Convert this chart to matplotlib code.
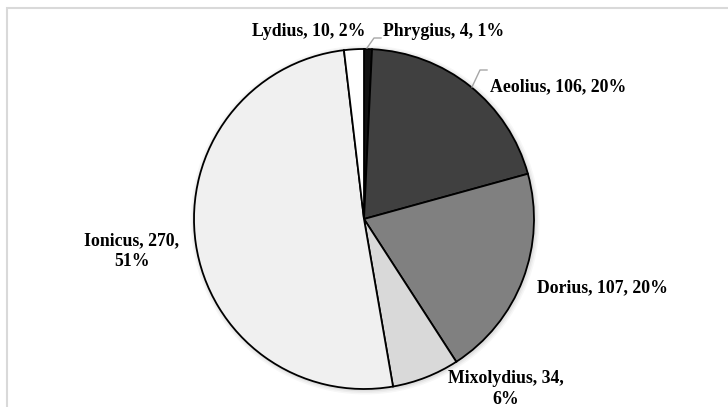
import matplotlib.pyplot as plt
from matplotlib.patches import Rectangle, Circle

modes = ['Phrygius', 'Aeolius', 'Dorius', 'Mixolydius', 'Ionicus', 'Lydius']
counts = [4, 106, 107, 34, 270, 10]
shares = ['1%', '20%', '20%', '6%', '51%', '2%']
colors = ['#111111', '#404040', '#808080', '#d9d9d9', '#f0f0f0', '#ffffff']

# label centre positions in pixels (x, y from top)
label_pos = [(444, 32), (558, 87), (602, 288), (506, 389), (132, 251), (309, 32)]
label_text = [
    'Phrygius, 4, 1%',
    'Aeolius, 106, 20%',
    'Dorius, 107, 20%',
    'Mixolydius, 34,\n6%',
    'Ionicus, 270,\n51%',
    'Lydius, 10, 2%',
]

W, H = 728, 407
cx, cy, r = 364, 219, 170

fig = plt.figure(figsize=(W / 100, H / 100), dpi=100)
ax = fig.add_axes([0, 0, 1, 1])

# chart border
ax.add_patch(Rectangle((7, -10), W, H - 8 + 10, fill=False, ec='#d9d9d9', lw=1.5))

# soft shadow
for i, a in enumerate([0.05, 0.04, 0.03]):
    ax.add_patch(Circle((cx + 1, H - cy - 1), r + 1.5 + i * 1.5, color='black', alpha=a, lw=0))

ax.pie(counts, colors=colors, startangle=90, counterclock=False,
       center=(cx, H - cy), radius=r, frame=True,
       wedgeprops=dict(edgecolor='black', linewidth=1.3))
ax.set_xlim(0, W)
ax.set_ylim(0, H)
ax.set_aspect('equal')
ax.axis('off')

for (x, y), t in zip(label_pos, label_text):
    ax.text(x, H - y, t, ha='center', va='center', fontsize=12.8,
            fontweight='bold', family='Liberation Serif', linespacing=1.3)

# leader lines
ax.plot([367, 374, 381], [H - 48, H - 38, H - 38], color='#a6a6a6', lw=1)
ax.plot([472, 480, 487], [H - 87, H - 70, H - 70], color='#a6a6a6', lw=1)

fig.savefig('out.png', dpi=100)
